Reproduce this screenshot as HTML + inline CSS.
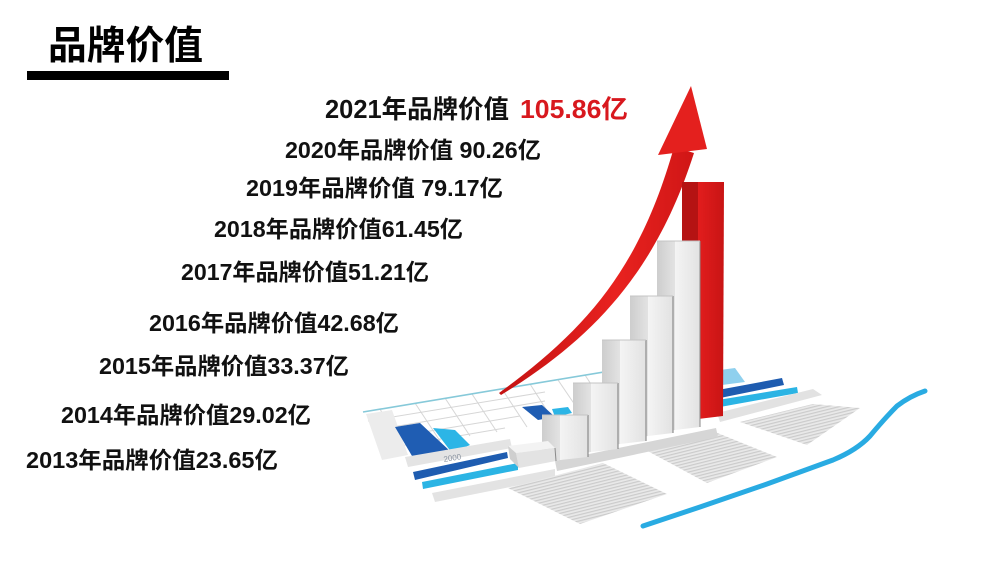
<!DOCTYPE html>
<html><head><meta charset="utf-8"><style>
html,body{margin:0;padding:0;background:#fff;}
svg{display:block;}
.t{font-family:"Liberation Sans","Noto Sans CJK SC",sans-serif;font-weight:bold;fill:#111;}
.c{font-family:"Noto Sans CJK SC","Liberation Sans",sans-serif;font-weight:bold;fill:#000;}
</style></head><body>
<svg width="1000" height="562" viewBox="0 0 1000 562" xmlns="http://www.w3.org/2000/svg">
<defs>
  <pattern id="tx" width="40" height="3" patternUnits="userSpaceOnUse" patternTransform="rotate(-14)">
    <rect width="40" height="3" fill="#e9e9e9"/>
    <rect width="40" height="1.2" fill="#cbcbcb"/>
  </pattern>
  <linearGradient id="arr" x1="0" y1="0" x2="1" y2="0">
    <stop offset="0" stop-color="#c41212"/>
    <stop offset="0.6" stop-color="#e8221f"/>
    <stop offset="1" stop-color="#d01616"/>
  </linearGradient>
  <linearGradient id="lf" x1="0" y1="0" x2="1" y2="0">
    <stop offset="0" stop-color="#cdcdcd"/>
    <stop offset="1" stop-color="#e3e3e3"/>
  </linearGradient>
  <linearGradient id="rf" x1="0" y1="0" x2="1" y2="0">
    <stop offset="0" stop-color="#f4f4f4"/>
    <stop offset="1" stop-color="#e2e2e2"/>
  </linearGradient>
  <linearGradient id="rr" x1="0" y1="0" x2="1" y2="0">
    <stop offset="0" stop-color="#e21d1d"/>
    <stop offset="1" stop-color="#c81414"/>
  </linearGradient>
</defs>
<rect width="1000" height="562" fill="#fff"/>

<!-- Title -->
<text class="c" x="48" y="59" font-size="39" textLength="155" lengthAdjust="spacingAndGlyphs">品牌价值</text>
<rect x="27" y="71" width="202" height="9" fill="#000"/>

<!-- Value lines -->
<text class="t" x="325" y="118" font-size="25.5" textLength="184" lengthAdjust="spacingAndGlyphs">2021年品牌价值</text>
<text class="t" x="520" y="118" font-size="25.5" textLength="108" lengthAdjust="spacingAndGlyphs" style="fill:#d8181e">105.86亿</text>
<text class="t" x="285" y="158" font-size="23" textLength="256" lengthAdjust="spacingAndGlyphs">2020年品牌价值 90.26亿</text>
<text class="t" x="246" y="196" font-size="23" textLength="257" lengthAdjust="spacingAndGlyphs">2019年品牌价值 79.17亿</text>
<text class="t" x="214" y="237" font-size="23" textLength="249" lengthAdjust="spacingAndGlyphs">2018年品牌价值61.45亿</text>
<text class="t" x="181" y="280" font-size="23" textLength="248" lengthAdjust="spacingAndGlyphs">2017年品牌价值51.21亿</text>
<text class="t" x="149" y="331" font-size="23" textLength="250" lengthAdjust="spacingAndGlyphs">2016年品牌价值42.68亿</text>
<text class="t" x="99" y="374" font-size="23" textLength="250" lengthAdjust="spacingAndGlyphs">2015年品牌价值33.37亿</text>
<text class="t" x="61" y="423" font-size="23" textLength="250" lengthAdjust="spacingAndGlyphs">2014年品牌价值29.02亿</text>
<text class="t" x="26" y="468" font-size="23" textLength="252" lengthAdjust="spacingAndGlyphs">2013年品牌价值23.65亿</text>

<!-- Paper: grid region -->
<g stroke="#d6d6d6" stroke-width="1" fill="none">
  <line x1="368" y1="421" x2="545" y2="392"/>
  <line x1="375" y1="430" x2="545" y2="401"/>
  <line x1="382" y1="439" x2="520" y2="416"/>
  <line x1="388" y1="448" x2="505" y2="428"/>
  <line x1="380" y1="409" x2="402" y2="447"/>
  <line x1="415" y1="403" x2="440" y2="441"/>
  <line x1="445" y1="398" x2="470" y2="436"/>
  <line x1="472" y1="394" x2="497" y2="432"/>
  <line x1="502" y1="389" x2="527" y2="427"/>
  <line x1="530" y1="384" x2="553" y2="420"/>
  <line x1="558" y1="380" x2="575" y2="405"/>
  <line x1="585" y1="375" x2="600" y2="398"/>
</g>
<polygon points="366,414 392,410 408,455 382,460" fill="#ececec"/>
<line x1="363" y1="412" x2="700" y2="356" stroke="#86c9d9" stroke-width="1.6"/>

<!-- left chart bars on paper -->
<polygon points="395,427 420,423 451,452 412,456" fill="#1f5db3"/>
<polygon points="433,428 455,430 470,445 452,453" fill="#2cb5e6"/>
<polygon points="405,457 510,439 512,448 408,467" fill="#e4e4e4"/>
<text x="444" y="462" font-family="Liberation Sans, sans-serif" font-size="8" fill="#8a93a0" transform="rotate(-9 444 462)">2000</text>
<polygon points="522,407 542,405 555,417 538,420" fill="#1f5db3"/>
<polygon points="552,409 568,407 572,413 555,417" fill="#2cb5e6"/>

<!-- left stripes -->
<polygon points="413,472 507,452 508,458 415,480" fill="#1e5cb0"/>
<polygon points="422,482 518,463 518,470 423,489" fill="#2bb4e4"/>
<polygon points="432,493 555,469 555,478 435,502" fill="#e3e3e3"/>

<!-- right stripes -->
<polygon points="720,370 735,368 745,382 722,385" fill="#8fd0ee"/>
<polygon points="718,390 782,378 784,385 720,398" fill="#1e5cb0"/>
<polygon points="718,400 797,387 798,393 720,407" fill="#2bb4e4"/>
<polygon points="717,413 813,389 822,395 720,422" fill="#e2e2e2"/>

<!-- text blocks -->
<polygon points="508,488 603,463 667,494 580,524" fill="url(#tx)"/>
<polygon points="642,448 710,430 777,457 707,483" fill="url(#tx)"/>
<polygon points="740,422 813,404 860,408 807,445" fill="url(#tx)"/>

<!-- blue wave -->
<path d="M643,526 L700,507 L767,484 L833,460 Q857,450 870,436 Q885,418 897,406 Q910,396 925,391" fill="none" stroke="#29abe2" stroke-width="5" stroke-linejoin="round" stroke-linecap="round"/>

<!-- shadow band under bars -->
<polygon points="555,461 716,428 718,437 557,471" fill="#d6d6d6"/>

<!-- arrow -->
<path d="M499,393 C587,329 640,268 674,147 L694,153 C656,272 593,339 501,395 Z" fill="url(#arr)"/>
<polygon points="691,86 707,149 658,155" fill="#e4201e"/>

<!-- red bar -->
<polygon points="682,182 698,182 698,418 682,420" fill="#b51313"/>
<polygon points="698,182 724,182 723,416 698,419" fill="url(#rr)"/>

<!-- white bars back to front -->
<g stroke-width="1">
  <polygon points="657,241 675,241 675,430 657,433" fill="url(#lf)"/>
  <polygon points="675,241 700,241 700,427 675,430" fill="url(#rf)"/>
  <line x1="700" y1="241" x2="700" y2="427" stroke="#8a8a8a"/>
  <line x1="657" y1="241" x2="700" y2="241" stroke="#c4c4c4"/>

  <polygon points="630,296 648,296 648,436 630,439" fill="url(#lf)"/>
  <polygon points="648,296 673,296 673,433 648,436" fill="url(#rf)"/>
  <line x1="673" y1="296" x2="673" y2="433" stroke="#7a7a7a"/>
  <line x1="630" y1="296" x2="673" y2="296" stroke="#c4c4c4"/>

  <polygon points="602,340 620,340 620,444 602,447" fill="url(#lf)"/>
  <polygon points="620,340 646,340 646,441 620,444" fill="url(#rf)"/>
  <line x1="646" y1="340" x2="646" y2="441" stroke="#7a7a7a"/>
  <line x1="602" y1="340" x2="646" y2="340" stroke="#c4c4c4"/>

  <polygon points="573,383 591,383 591,452 573,455" fill="url(#lf)"/>
  <polygon points="591,383 618,383 618,449 591,452" fill="url(#rf)"/>
  <line x1="618" y1="383" x2="618" y2="449" stroke="#7a7a7a"/>
  <line x1="573" y1="383" x2="618" y2="383" stroke="#c4c4c4"/>

  <polygon points="542,415 560,415 560,460 542,463" fill="url(#lf)"/>
  <polygon points="560,415 588,415 588,457 560,460" fill="url(#rf)"/>
  <line x1="588" y1="415" x2="588" y2="457" stroke="#7a7a7a"/>
  <line x1="542" y1="415" x2="588" y2="415" stroke="#c4c4c4"/>

  <polygon points="508,446 548,441 555,448 516,453" fill="#f3f3f3"/>
  <polygon points="516,453 555,448 556,461 519,468" fill="#e3e3e3"/>
  <polygon points="508,446 516,453 519,468 510,459" fill="#cfcfcf"/>
  <line x1="555" y1="448" x2="556" y2="461" stroke="#8a8a8a"/>
</g>
</svg>
</body></html>
